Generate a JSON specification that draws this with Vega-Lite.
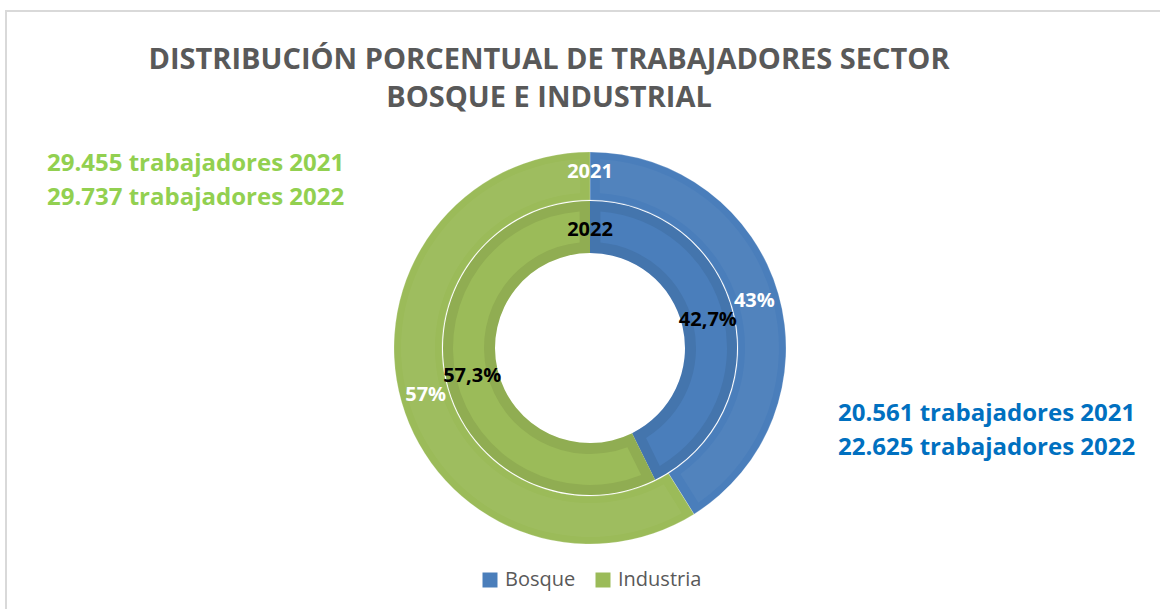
{
  "$schema": "https://vega.github.io/schema/vega-lite/v6.json",
  "width": 1168,
  "height": 674,
  "padding": {"left": 6, "top": 11, "right": 0, "bottom": 0},
  "autosize": {"type": "none"},
  "background": "white",
  "config": {
    "view": {"stroke": "#d9d9d9", "strokeWidth": 2},
    "font": "Open Sans",
    "legend": {
      "orient": "none",
      "legendX": 474,
      "legendY": 559,
      "direction": "horizontal",
      "symbolType": "square",
      "symbolSize": 225,
      "symbolStrokeWidth": 0,
      "labelFontSize": 20,
      "labelColor": "#595959",
      "labelFont": "Open Sans",
      "columnPadding": 17,
      "labelOffset": 5,
      "padding": 0,
      "title": null
    }
  },
  "title": {
    "text": ["DISTRIBUCIÓN PORCENTUAL DE TRABAJADORES SECTOR", "BOSQUE E INDUSTRIAL"],
    "anchor": "middle",
    "frame": "group",
    "dx": -41,
    "dy": 65,
    "offset": -37,
    "baseline": "top",
    "fontSize": 29,
    "fontWeight": "bold",
    "font": "Open Sans",
    "color": "#595959",
    "lineHeight": 38
  },
  "datasets": {
    "rings": [
      {"year": "2021", "category": "Bosque", "value": 41.1, "label": "43%"},
      {"year": "2021", "category": "Industria", "value": 58.9, "label": "57%"},
      {"year": "2022", "category": "Bosque", "value": 42.7, "label": "42,7%"},
      {"year": "2022", "category": "Industria", "value": 57.3, "label": "57,3%"}
    ],
    "years": [{"year": "2021"}, {"year": "2022"}],
    "notes": [
      {"category": "Industria", "lines": ["29.455 trabajadores 2021", "29.737 trabajadores 2022"]},
      {"category": "Bosque", "lines": ["20.561 trabajadores 2021", "22.625 trabajadores 2022"]}
    ]
  },
  "layer": [
    {
      "data": {"name": "rings"},
      "transform": [{"filter": "datum.year === '2021'"}],
      "mark": {"type": "arc", "radius": 196, "radius2": 148, "stroke": "#ffffff", "strokeOpacity": 0.2, "strokeWidth": 1},
      "encoding": {
        "theta": {"field": "value", "type": "quantitative", "stack": true},
        "color": {"field": "category", "type": "nominal", "scale": {"domain": ["Bosque", "Industria"], "range": ["#4a7ebb", "#9bbb59"]}, "legend": {"title": null}}
      }
    },
    {
      "data": {"name": "rings"},
      "transform": [{"filter": "datum.year === '2021'"}],
      "mark": {"type": "arc", "radius": 189, "radius2": 155, "padAngle": 0.08, "fill": "#ffffff", "fillOpacity": 0.04},
      "encoding": {
        "theta": {"field": "value", "type": "quantitative", "stack": true},
        "detail": {"field": "category"}
      }
    },
    {
      "data": {"name": "rings"},
      "transform": [{"filter": "datum.year === '2022'"}],
      "mark": {"type": "arc", "radius": 147, "radius2": 95},
      "encoding": {
        "theta": {"field": "value", "type": "quantitative", "stack": true},
        "color": {"field": "category", "type": "nominal"}
      }
    },
    {
      "data": {"name": "rings"},
      "transform": [{"filter": "datum.year === '2022'"}],
      "mark": {"type": "arc", "radius": 147, "radius2": 95, "fill": "#000000", "fillOpacity": 0.07},
      "encoding": {
        "theta": {"field": "value", "type": "quantitative", "stack": true},
        "detail": {"field": "category"}
      }
    },
    {
      "data": {"name": "rings"},
      "transform": [{"filter": "datum.year === '2022'"}],
      "mark": {"type": "arc", "radius": 137, "radius2": 106, "padAngle": 0.12},
      "encoding": {
        "theta": {"field": "value", "type": "quantitative", "stack": true},
        "color": {"field": "category", "type": "nominal"}
      }
    },
    {
      "data": {"name": "rings"},
      "transform": [{"filter": "datum.year === '2021'"}],
      "mark": {"type": "text", "radius": 171, "fontSize": 20, "fontWeight": "bold", "font": "Open Sans", "color": "#ffffff"},
      "encoding": {
        "theta": {"field": "value", "type": "quantitative", "stack": true},
        "detail": {"field": "category"},
        "text": {"field": "label"}
      }
    },
    {
      "data": {"name": "rings"},
      "transform": [{"filter": "datum.year === '2022'"}],
      "mark": {"type": "text", "radius": 121, "fontSize": 20, "fontWeight": "bold", "font": "Open Sans", "color": "#000000"},
      "encoding": {
        "theta": {"field": "value", "type": "quantitative", "stack": true},
        "detail": {"field": "category"},
        "text": {"field": "label"}
      }
    },
    {
      "data": {"name": "years"},
      "transform": [{"filter": "datum.year === '2021'"}],
      "mark": {"type": "text", "radius": 176, "fontSize": 20, "fontWeight": "bold", "font": "Open Sans", "color": "#ffffff"},
      "encoding": {
        "theta": {"datum": 0, "type": "quantitative"},
        "text": {"field": "year"}
      }
    },
    {
      "data": {"name": "years"},
      "transform": [{"filter": "datum.year === '2022'"}],
      "mark": {"type": "text", "radius": 118, "fontSize": 20, "fontWeight": "bold", "font": "Open Sans", "color": "#000000"},
      "encoding": {
        "theta": {"datum": 0, "type": "quantitative"},
        "text": {"field": "year"}
      }
    },
    {
      "data": {"name": "notes"},
      "mark": {"type": "text", "align": "left", "baseline": "middle", "lineHeight": 34, "fontSize": 24, "fontWeight": "bold", "font": "Open Sans"},
      "encoding": {
        "x": {"field": "category", "type": "nominal", "scale": {"type": "point", "domain": ["Industria", "Bosque"], "range": [41, 832], "padding": 0}, "axis": null},
        "y": {"field": "category", "type": "nominal", "scale": {"type": "point", "domain": ["Industria", "Bosque"], "range": [153, 403], "padding": 0}, "axis": null},
        "text": {"field": "lines"},
        "color": {"condition": {"test": "datum.category === 'Bosque'", "value": "#0070c0"}, "value": "#92d050"}
      }
    }
  ]
}
